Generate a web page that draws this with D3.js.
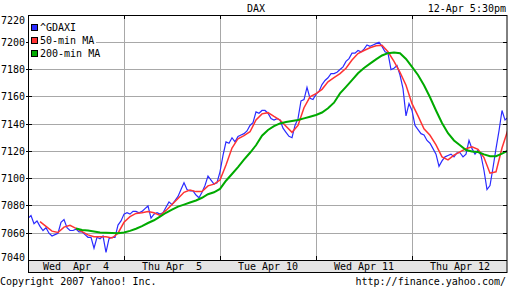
<!DOCTYPE html>
<html lang="en">
<head>
<meta charset="UTF-8">
<title>DAX</title>
<script src="https://d3js.org/d3.v7.min.js"></script>
<style>
  body { margin: 0; padding: 0; background: #fff; }
  svg { display: block; }
  text { font-family: "DejaVu Sans Mono", monospace; font-size: 10px; fill: #000; white-space: pre; }
</style>
</head>
<body>
<svg id="chart" width="512" height="288"></svg>
<script>
// day labels for the bottom band, 32 samples (3 px each) per trading day
var days = ["Wed  Apr  4", "Thu Apr  5", "Tue Apr 10", "Wed Apr 11", "Thu Apr 12"];
var perDay = 32;

var yTicks = [7040, 7060, 7080, 7100, 7120, 7140, 7160, 7180, 7200, 7220];

// ^GDAXI, one value per sample (slot 0..160)
var gdaxi = [
  7071,7073,7067,7069,7065,7062,7064,7060,7058,7059,7060,7068,7070,7064,7062,7062,
  7063,7061,7061,7059,7057,7057,7049,7057,7056,7058,7046,7056,7057,7057,7066,7069,
  7074,7075,7074,7076,7076,7075,7076,7078,7080,7071,7074,7075,7074,7075,7079,7083,
  7081,7084,7087,7092,7097,7092,7091,7091,7088,7086,7090,7095,7102,7099,7096,7097,
  7105,7117,7127,7126,7130,7127,7131,7132,7133,7135,7139,7141,7149,7148,7150,7150,
  7148,7144,7143,7144,7143,7137,7134,7131,7130,7139,7144,7157,7158,7167,7159,7158,
  7162,7164,7169,7172,7174,7177,7177,7178,7180,7182,7186,7188,7192,7192,7194,7193,
  7195,7198,7197,7198,7199,7200,7197,7193,7192,7180,7181,7183,7176,7166,7146,7155,
  7150,7139,7136,7133,7132,7128,7126,7122,7118,7109,7113,7116,7117,7118,7116,7119,
  7119,7116,7118,7128,7122,7118,7121,7117,7106,7092,7095,7108,7122,7135,7150,7143,
  7145
];

// 50-min MA, every 2nd slot starting at slot 4
var ma50Start = 4;
var ma50 = [
  7068.5,7065,7061.5,7060.5,7064.5,7065.8,7063.5,7061.2,7058.8,7057.5,
  7057.5,7057.4,7056.5,7060,7068,7072.2,7074.5,7075,7076,7075,
  7073,7076.7,7081,7085.5,7090,7091.7,7090.5,7090.5,7094.7,7096,
  7099,7110,7122.5,7129.3,7131.5,7134.4,7143,7147.5,7148.4,7145.6,
  7143,7138.5,7134,7139,7152,7160,7162.3,7165.5,7171,7174,
  7177,7181,7187,7191.7,7194,7196,7197.5,7197.8,7193,7186,
  7178,7168.5,7155,7146,7136.5,7131.8,7124.8,7116,7113.8,7117.3,
  7119.7,7122,7123.3,7121.5,7115.5,7104,7105,7122.5,7136
];

// 200-min MA, every 2nd slot starting at slot 16
var ma200Start = 16;
var ma200 = [
  7063.5,7062.3,7062,7061.3,7060.6,7060.4,7060.2,7060,7060.5,7061.7,
  7063.3,7065.2,7067.5,7069.5,7072.2,7075,7077.3,7079.5,7081,7082.5,
  7084,7086,7088.6,7090,7092.5,7098.5,7103.4,7108.5,7114,7119,
  7124.5,7131.5,7135.7,7138.5,7140.5,7141.5,7142.3,7143,7144.2,7145.4,
  7146.7,7148.5,7151.6,7155.7,7162.5,7167.3,7172.2,7177.3,7181.2,7184.3,
  7187.5,7190.3,7192,7192.5,7192,7187.8,7182,7176,7168.5,7159.7,
  7150,7140.8,7133.3,7128,7124.5,7121,7120,7119.5,7117.8,7116.5,
  7116.5,7118.3,7120.5
];

var series = [
  { name: "^GDAXI", color: "#2b2bff", width: 1.2, start: 0, step: 1, values: gdaxi },
  { name: "50-min MA", color: "#ff3333", width: 1.5, start: ma50Start, step: 2, values: ma50 },
  { name: "200-min MA", color: "#00aa00", width: 2, start: ma200Start, step: 2, values: ma200 }
];

(function() {
  var svg = d3.select("#chart");
  var pLeft = 28, pRight = 507, pTop = 15, pBottom = 260.5, bandBottom = 272;

  var nSlots = days.length * perDay;
  var x = d3.scaleLinear().domain([0, nSlots]).range([pLeft, 508]);
  var y = d3.scaleLinear().domain([7040, 7220]).range([pBottom, pTop]);

  svg.append("defs").append("clipPath").attr("id", "clip")
    .append("rect").attr("x", pLeft).attr("y", pTop).attr("width", pRight - pLeft).attr("height", pBottom - pTop);

  // horizontal grid
  svg.append("g").selectAll("line").data(yTicks.slice(1, -1)).enter().append("line")
    .attr("x1", pLeft).attr("x2", pRight)
    .attr("y1", function(d) { return Math.floor(y(d)) + 0.5; })
    .attr("y2", function(d) { return Math.floor(y(d)) + 0.5; })
    .attr("stroke", "#a8a8a8").attr("stroke-width", 1);

  // vertical grid at day boundaries
  var bounds = d3.range(1, days.length).map(function(i) { return i * perDay; });
  svg.append("g").selectAll("line").data(bounds).enter().append("line")
    .attr("x1", function(d) { return Math.floor(x(d)) + 0.5; })
    .attr("x2", function(d) { return Math.floor(x(d)) + 0.5; })
    .attr("y1", pTop).attr("y2", pBottom)
    .attr("stroke", "#a8a8a8").attr("stroke-width", 1);

  // bottom date band
  svg.append("rect").attr("x", pLeft).attr("y", 260).attr("width", pRight - pLeft).attr("height", bandBottom - 260)
    .attr("fill", "#e4e4e4");

  // lines
  var line = d3.line()
    .x(function(d) { return x(d.i); })
    .y(function(d) { return y(d.v); });

  var lines = svg.append("g").attr("clip-path", "url(#clip)");
  series.forEach(function(s) {
    var pts = s.values.map(function(v, k) { return { i: s.start + k * s.step, v: v }; });
    lines.append("path").datum(pts)
      .attr("d", line)
      .attr("fill", "none")
      .attr("stroke", s.color)
      .attr("stroke-width", s.width);
  });

  // frame
  svg.append("rect").attr("x", pLeft + 0.5).attr("y", pTop + 0.5)
    .attr("width", pRight - pLeft - 0.5).attr("height", bandBottom - pTop)
    .attr("fill", "none").attr("stroke", "#000");
  svg.append("line").attr("x1", pLeft).attr("x2", pRight).attr("y1", 260.5).attr("y2", 260.5).attr("stroke", "#000");

  // ticks
  var tickG = svg.append("g").attr("stroke", "#000");
  yTicks.slice(1, -1).forEach(function(t) {
    var yy = Math.floor(y(t)) + 0.5;
    tickG.append("line").attr("x1", pLeft - 2).attr("x2", pLeft + 4).attr("y1", yy).attr("y2", yy);
    tickG.append("line").attr("x1", pRight - 4).attr("x2", pRight).attr("y1", yy).attr("y2", yy);
  });
  bounds.forEach(function(b) {
    var xx = Math.floor(x(b)) + 0.5;
    tickG.append("line").attr("x1", xx).attr("x2", xx).attr("y1", pTop).attr("y2", pTop + 4);
    tickG.append("line").attr("x1", xx).attr("x2", xx).attr("y1", 256).attr("y2", 260);
  });

  // y labels
  svg.append("g").selectAll("text").data(yTicks).enter().append("text")
    .attr("x", 25)
    .attr("y", function(d) { return Math.max(20, Math.min(257, y(d))); })
    .attr("dy", "0.35em")
    .attr("text-anchor", "end")
    .text(function(d) { return d; });

  // day labels
  svg.append("g").selectAll("text").data(days).enter().append("text")
    .attr("x", function(d, i) { return x(i * perDay + perDay / 2); })
    .attr("y", 266).attr("dy", "0.35em")
    .attr("text-anchor", "middle")
    .text(function(d) { return d; });

  // legend
  svg.append("rect").attr("x", pLeft + 1).attr("y", pTop + 1).attr("width", 67).attr("height", 46).attr("fill", "#fff");
  var leg = svg.append("g").selectAll("g").data(series).enter().append("g")
    .attr("transform", function(d, i) { return "translate(0," + (27.5 + i * 13) + ")"; });
  leg.append("rect").attr("x", 31.5).attr("y", -3).attr("width", 6).attr("height", 6)
    .attr("fill", function(d) { return d.color; }).attr("stroke", "#000").attr("stroke-width", 1);
  leg.append("text").attr("x", 40).attr("y", 0).attr("dy", "0.35em").text(function(d) { return d.name; });

  // titles and footer
  svg.append("text").attr("x", 256).attr("y", 12).attr("text-anchor", "middle").text("DAX");
  svg.append("text").attr("x", 506).attr("y", 12).attr("text-anchor", "end").text("12-Apr 5:30pm");
  svg.append("text").attr("x", 0).attr("y", 285).text("Copyright 2007 Yahoo! Inc.");
  svg.append("text").attr("x", 506).attr("y", 285).attr("text-anchor", "end").text("http://finance.yahoo.com/");
})();
</script>
</body>
</html>
